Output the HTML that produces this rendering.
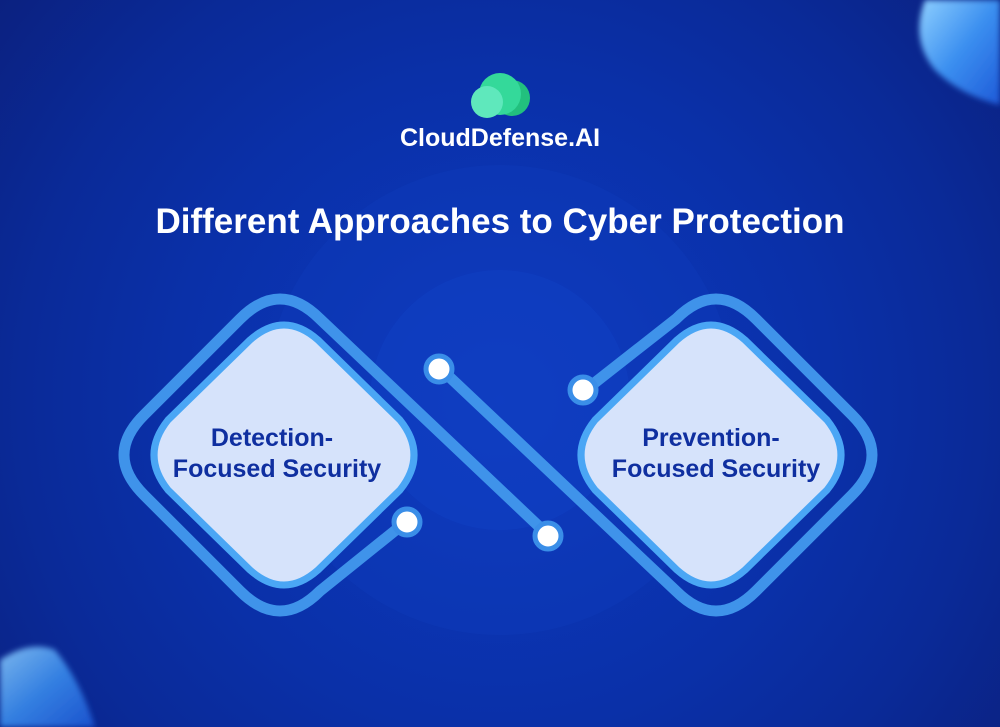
<!DOCTYPE html>
<html><head><meta charset="utf-8"><style>
html,body{margin:0;padding:0}
body{width:1000px;height:727px;overflow:hidden;position:relative;font-family:"Liberation Sans",sans-serif;
background:radial-gradient(circle at 500px 400px,#0f3cc4 0,#0d37bb 120px,#0b34b2 200px,#0a30a8 330px,#0a2a98 480px,#0b2283 620px,#0c1a6a 800px);}
.t{position:absolute;left:0;width:1000px;text-align:center;color:#fff;font-weight:bold}
</style></head><body>
<svg width="1000" height="727" style="position:absolute;left:0;top:0">
<defs>
<filter id="b"><feGaussianBlur stdDeviation="3"/></filter>
<linearGradient id="sh" x1="0" y1="0" x2="1" y2="1"><stop offset="0" stop-color="#8fd0ff"/><stop offset="0.5" stop-color="#3b8ff0"/><stop offset="1" stop-color="#1e5ad8"/></linearGradient>
</defs>
<circle cx="500" cy="400" r="235" fill="#0d3ab8" opacity="0.5"/>
<circle cx="500" cy="400" r="130" fill="#0f3fc4" opacity="0.5"/>
<path d="M925 0 L1000 0 L1000 105 Q960 95 935 70 Q910 40 925 0Z" fill="url(#sh)" filter="url(#b)"/>
<path d="M0 660 Q30 640 55 650 Q80 680 95 727 L0 727Z" fill="url(#sh)" filter="url(#b)" opacity="0.85"/>
<g fill="none" stroke="#3f93ea" stroke-width="11" stroke-linejoin="round">
<path d="M407,521 L320,591 Q280,631 240,591 L144,495 Q104,455 144,415 L240,319 Q280,279 320,319 L548,535"/>
<path d="M440,368 L676,591 Q716,631 756,591 L852,495 Q892,455 852,415 L756,319 Q716,279 676,319 L583,392"/>
</g>
<path d="M250,340 Q284,310 318,340 L400,420 Q428,455 400,490 L318,570 Q284,600 250,570 L168,490 Q140,455 168,420 Z" fill="#d6e3fb" stroke="#4aa6f5" stroke-width="7"/>
<path d="M677,340 Q711,310 745,340 L827,420 Q855,455 827,490 L745,570 Q711,600 677,570 L595,490 Q567,455 595,420 Z" fill="#d6e3fb" stroke="#4aa6f5" stroke-width="7"/>
<g fill="#fff" stroke="#3a8ee8" stroke-width="5">
<circle cx="439" cy="369" r="13"/>
<circle cx="548" cy="536" r="13"/>
<circle cx="407" cy="522" r="13"/>
<circle cx="583" cy="390" r="13"/>
</g>
<circle cx="512" cy="98" r="18" fill="#22c07e"/>
<circle cx="500" cy="94" r="21" fill="#34d99a"/>
<circle cx="487" cy="102" r="16" fill="#5fe8bc"/>
<g font-family="Liberation Sans,sans-serif" font-weight="bold" font-size="25" fill="#0f2fa0" text-anchor="middle">
<text x="272" y="446">Detection-</text>
<text x="277" y="477">Focused Security</text>
<text x="711" y="446">Prevention-</text>
<text x="716" y="477">Focused Security</text>
</g>
</svg>
<div class="t" style="top:124px;font-size:25px">CloudDefense.AI</div>
<div class="t" style="top:202px;font-size:35px">Different Approaches to Cyber Protection</div>
</body></html>
